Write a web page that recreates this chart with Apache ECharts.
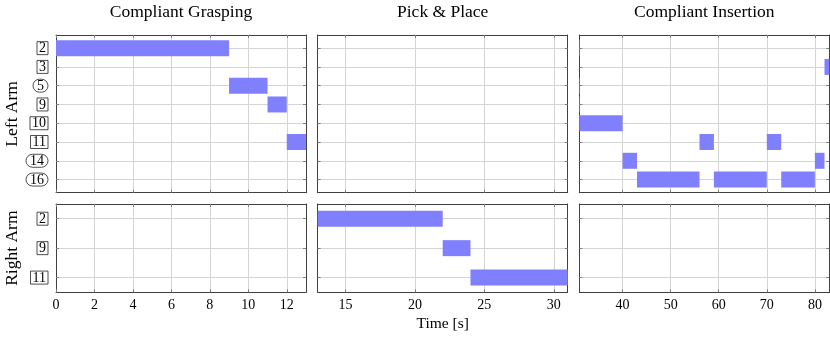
<!DOCTYPE html>
<html>
<head>
<meta charset="utf-8">
<script src="https://cdn.jsdelivr.net/npm/echarts@6/dist/echarts.min.js"></script>
<style>html,body{margin:0;padding:0;background:#fff}#c{width:830px;height:338px}</style>
</head>
<body>
<div id="c"></div>
<script>
// ---- data ----
const phases = ['Compliant Grasping', 'Pick & Place', 'Compliant Insertion'];
const phaseMin = [0, 13, 31];
const phaseMax = [13, 31, 83];
const phaseTicks = [[0, 2, 4, 6, 8, 10, 12], [15, 20, 25, 30], [40, 50, 60, 70, 80]];
const leftRows = ['2', '3', '5', '9', '10', '11', '14', '16'];
const leftCircled = ['5', '14', '16'];
const rightRows = ['2', '9', '11'];
const rightCircled = [];
const leftTask  = ['2', '5', '9', '11', '2', '5', '9', '10', '14', '16', '11', '16', '11', '16', '14', '3'];
const leftStart = [0, 9, 11, 12, 31, 31, 31, 31, 40, 43, 56, 59, 70, 73, 80, 82];
const leftEnd   = [9, 11, 12, 13, 31.12, 31.12, 31.12, 40, 43, 56, 59, 70, 73, 80, 82, 83];
const rightTask  = ['2', '9', '11'];
const rightStart = [13, 22, 24];
const rightEnd   = [22, 24, 31];
const armNames = ['Left Arm', 'Right Arm'];
const xTitle = 'Time [s]';

// ---- layout ----
const FONT = 'Liberation Serif';
const panelLeft = [56, 317.7, 579.3];
const panelW = 250;
const rowTop = [35, 204];
const rowH = [157.7, 88.3];
const yPad = [0.7, 0.5];
const frameCol = '#404040';
const gridCol = '#d4d4d4';
const tickCol = '#808080';
const barCol = '#8080ff';

const arms = [
  {rows: leftRows, circ: leftCircled, task: leftTask, s: leftStart, e: leftEnd},
  {rows: rightRows, circ: rightCircled, task: rightTask, s: rightStart, e: rightEnd}
];

const grids = [], xAxes = [], yAxes = [], series = [];
let gi = 0;
arms.forEach((arm, a) => {
  const nRows = arm.rows.length;
  const yVals = arm.rows.map((_, i) => i);
  phases.forEach((ph, p) => {
    grids.push({left: panelLeft[p], top: rowTop[a], width: panelW, height: rowH[a], containLabel: false});
    const bottom = a === 1;
    const xBase = {
      type: 'value', gridIndex: gi, min: phaseMin[p], max: phaseMax[p],
      axisLine: {show: true, onZero: false, lineStyle: {color: frameCol, width: 1}},
      axisTick: {show: true, inside: true, length: 3, customValues: phaseTicks[p], lineStyle: {color: tickCol}},
    };
    xAxes.push(Object.assign({}, xBase, {
      position: 'bottom',
      axisLabel: {show: bottom, customValues: phaseTicks[p], fontFamily: FONT, fontSize: 14, color: '#000', margin: 6},
      splitLine: {show: true, lineStyle: {color: gridCol, width: 1}},
      name: (bottom && p === 1) ? xTitle : '', nameLocation: 'middle', nameGap: 24,
      nameTextStyle: {fontFamily: FONT, fontSize: 15.5, color: '#000'}
    }));
    xAxes.push(Object.assign({}, xBase, {
      position: 'top', axisLabel: {show: false}, splitLine: {show: false}
    }));
    const yBase = {
      type: 'value', gridIndex: gi, min: -yPad[a], max: nRows - 1 + yPad[a], inverse: true,
      axisLine: {show: true, onZero: false, lineStyle: {color: frameCol, width: 1}},
      axisTick: {show: true, inside: true, length: 3, customValues: yVals, lineStyle: {color: tickCol}},
    };
    yAxes.push(Object.assign({}, yBase, {
      position: 'left',
      axisLabel: {
        show: p === 0, customValues: yVals, margin: 8,
        formatter: v => {
          const t = arm.rows[Math.round(v)];
          return arm.circ.indexOf(t) >= 0 ? '{c|' + t + '}' : '{b|' + t + '}';
        },
        rich: {
          b: {fontFamily: FONT, fontSize: 14, lineHeight: 14, color: '#000', borderColor: '#222', borderWidth: 0.8, padding: [0, 2, -1, 2]},
          c: {fontFamily: FONT, fontSize: 14, lineHeight: 14, color: '#000', borderColor: '#222', borderWidth: 0.8, borderRadius: 8, padding: [0, 4, -1, 4]}
        }
      },
      splitLine: {show: true, lineStyle: {color: gridCol, width: 1}},
      name: p === 0 ? armNames[a] : '', nameLocation: 'middle', nameRotate: 90, nameGap: 35,
      nameTextStyle: {fontFamily: FONT, fontSize: 17.5, color: '#000'}
    }));
    yAxes.push(Object.assign({}, yBase, {
      position: 'right', axisLabel: {show: false}, splitLine: {show: false}
    }));

    const data = [];
    arm.task.forEach((t, k) => {
      const s = Math.max(arm.s[k], phaseMin[p]);
      const e = Math.min(arm.e[k], phaseMax[p]);
      if (e > s) data.push([s, e, arm.rows.indexOf(t)]);
    });
    series.push({
      type: 'custom', xAxisIndex: gi * 2, yAxisIndex: gi * 2, data: data,
      encode: {x: [0, 1], y: 2},
      renderItem: (params, api) => {
        const p0 = api.coord([api.value(0), api.value(2)]);
        const p1 = api.coord([api.value(1), api.value(2)]);
        const h = 16;
        return {type: 'rect', shape: {x: p0[0], y: p0[1] - h / 2, width: p1[0] - p0[0], height: h},
                style: {fill: barCol}};
      },
      z: 5
    });
    gi++;
  });
});

const titles = phases.map((ph, p) => ({
  text: ph, left: panelLeft[p] + panelW / 2, top: 3, textAlign: 'center', padding: 0,
  textStyle: {fontFamily: FONT, fontSize: 17.5, fontWeight: 'normal', color: '#000'}
}));

const chart = echarts.init(document.getElementById('c'), null, {renderer: 'canvas'});
chart.setOption({
  animation: false, backgroundColor: '#fff',
  title: titles, grid: grids, xAxis: xAxes, yAxis: yAxes, series: series
});
</script>
</body>
</html>
